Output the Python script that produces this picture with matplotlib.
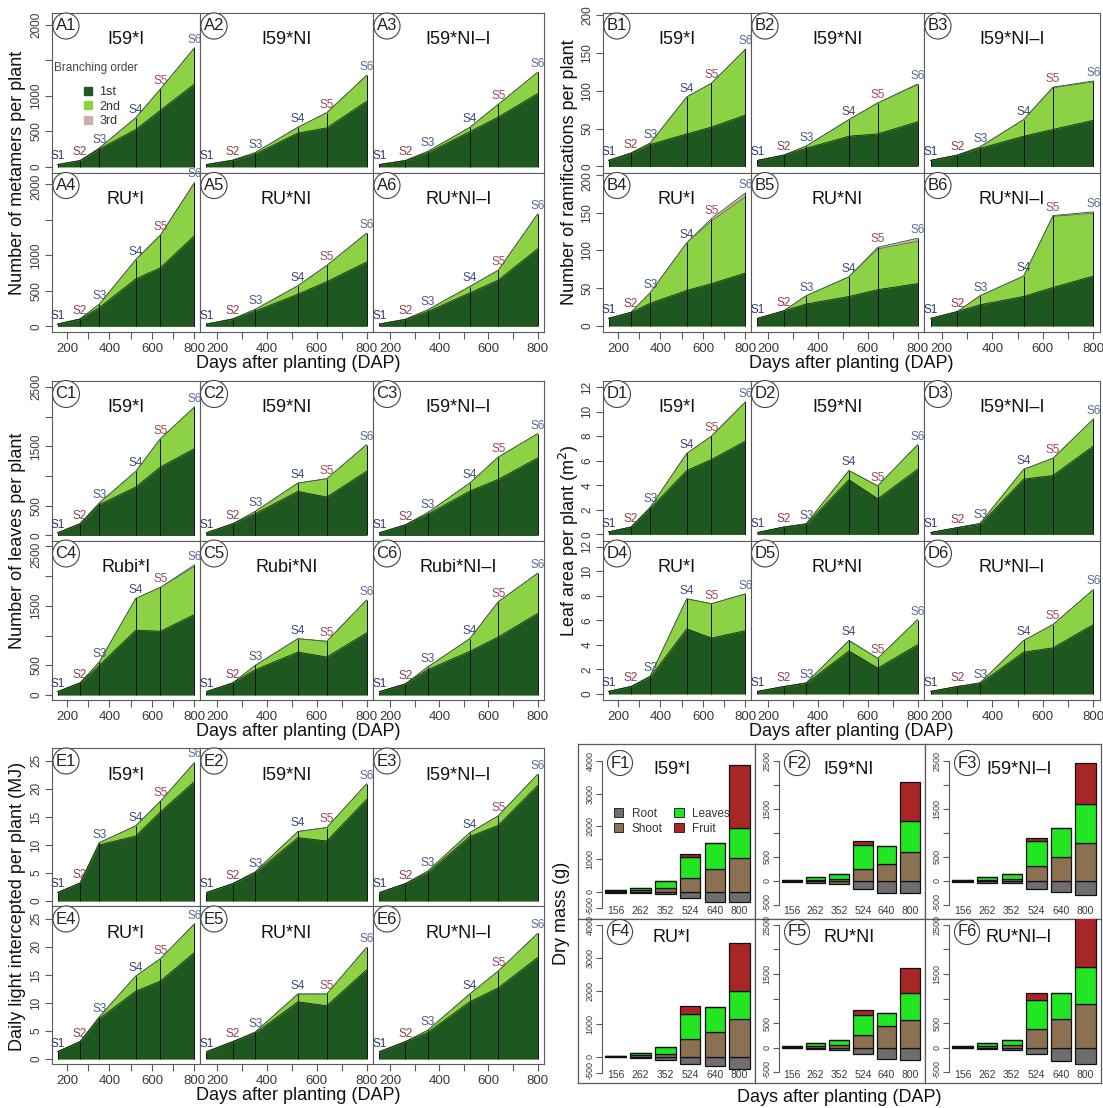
import numpy as np
import matplotlib
matplotlib.use("Agg")
import matplotlib.pyplot as plt
from matplotlib.patches import Patch
from matplotlib.transforms import ScaledTranslation

plt.rcParams['font.family'] = ['Liberation Sans', 'DejaVu Sans']

W, H = 1103, 1108

DAP = [156, 262, 352, 524, 640, 800]
STAGES = ["S1", "S2", "S3", "S4", "S5", "S6"]
STAGE_COLORS = ["#2e3a66", "#8e3e4e", "#4a5884", "#3e4a78", "#9c4c5a", "#5a6a9c"]

TITLES_IRU = ["I59*I", "I59*NI", "I59*NI–I", "RU*I", "RU*NI", "RU*NI–I"]
TITLES_RUBI = ["I59*I", "I59*NI", "I59*NI–I", "Rubi*I", "Rubi*NI", "Rubi*NI–I"]

# number of metamers: 1st order, 2nd order (added), 3rd order (added)
metamers_1st = [[30, 85, 250, 525, 795, 1165], [30, 90, 180, 475, 548, 920],
                [30, 85, 195, 495, 700, 1030], [30, 100, 262, 667, 824, 1276],
                [30, 100, 214, 452, 628, 905], [30, 95, 205, 470, 650, 1090]]
metamers_2nd = [[3, 3, 12, 165, 300, 505], [3, 5, 20, 82, 214, 366],
                [3, 5, 20, 60, 180, 300], [3, 5, 48, 271, 457, 738],
                [3, 5, 24, 119, 229, 405], [3, 5, 25, 90, 140, 490]]
metamers_3rd = [[0, 0, 0, 0, 0, 6], [0, 0, 0, 0, 0, 0], [0, 0, 0, 0, 0, 0],
                [0, 0, 0, 0, 5, 10], [0, 0, 0, 0, 0, 0], [0, 0, 0, 0, 0, 0]]

# number of ramifications
ramif_1st = [[8, 17, 29, 43, 52, 68], [8, 15, 24, 40, 43, 59], [8, 15, 24, 40, 49, 61],
             [10, 18, 30, 47, 56, 70], [10, 20, 29, 39, 48, 56], [10, 19, 28, 39, 51, 66]]
ramif_2nd = [[0, 1, 2, 49, 58, 87], [0, 0, 3, 22, 41, 49], [0, 0, 2, 22, 55, 51],
             [0, 0, 14, 63, 83, 101], [0, 0, 11, 26, 54, 56], [0, 0, 12, 27, 94, 83]]
ramif_3rd = [[0, 0, 0, 0, 0, 0], [0, 0, 0, 0, 0, 1], [0, 0, 0, 0, 1, 1],
             [0, 0, 0, 0, 3, 5], [0, 0, 0, 0, 2, 4], [0, 0, 0, 0, 1, 2]]

# number of leaves
leaves_1st = [[45, 197, 517, 815, 1152, 1461], [45, 197, 365, 742, 646, 1079],
              [45, 180, 354, 747, 944, 1303], [56, 203, 497, 1089, 1072, 1354],
              [56, 203, 423, 722, 638, 1044], [56, 186, 423, 734, 976, 1371]]
leaves_2nd = [[0, 0, 28, 264, 477, 702], [0, 0, 39, 140, 309, 449],
              [0, 0, 28, 135, 376, 410], [0, 0, 56, 536, 739, 807],
              [0, 0, 74, 226, 265, 553], [0, 0, 45, 214, 593, 677]]
leaves_3rd = [[0, 0, 0, 0, 0, 0], [0, 0, 0, 0, 0, 0], [0, 0, 0, 0, 0, 0],
              [0, 0, 0, 0, 0, 29], [0, 0, 0, 0, 0, 0], [0, 0, 0, 0, 0, 0]]

# leaf area (m2)
area_1st = [[0.2, 0.6, 2.1, 5.2, 6.1, 7.6], [0.15, 0.6, 0.8, 4.45, 2.9, 5.3],
            [0.15, 0.55, 0.8, 4.5, 4.8, 7.2], [0.2, 0.6, 1.35, 5.3, 4.55, 5.15],
            [0.2, 0.6, 0.85, 3.5, 2.1, 4.0], [0.2, 0.6, 0.85, 3.4, 3.75, 5.65]]
area_2nd = [[0, 0, 0.1, 1.4, 1.9, 3.2], [0, 0, 0.07, 0.75, 1.05, 2.0],
            [0, 0, 0.1, 0.8, 1.4, 2.2], [0, 0, 0.1, 2.45, 2.8, 3.0],
            [0, 0, 0.05, 0.85, 0.8, 2.05], [0, 0, 0.05, 0.95, 1.9, 2.85]]
area_3rd = [[0] * 6 for _ in range(6)]

# daily light intercepted (MJ)
light_1st = [[1.5, 3.2, 10.0, 11.6, 15.9, 21.3], [1.5, 3.1, 5.0, 11.3, 10.7, 18.1],
             [1.5, 3.1, 5.0, 11.5, 13.5, 20.6], [1.3, 3.1, 7.2, 12.1, 13.9, 19.0],
             [1.3, 3.1, 4.6, 10.2, 9.5, 15.9], [1.3, 3.1, 4.7, 10.2, 12.7, 18.1]]
light_2nd = [[0, 0, 0.4, 1.8, 1.9, 3.4], [0, 0, 0.2, 1.1, 2.4, 2.8],
             [0, 0, 0.3, 0.7, 1.7, 2.0], [0, 0, 0.3, 2.7, 4.0, 5.1],
             [0, 0, 0.2, 1.4, 2.1, 4.0], [0, 0, 0.4, 1.4, 3.0, 4.3]]
light_3rd = [[0] * 6 for _ in range(6)]

# dry mass (g) per organ, root drawn below zero
root_mass = [[30, 50, 80, 200, 330, 330], [20, 40, 60, 170, 250, 250],
             [20, 40, 50, 160, 230, 300], [20, 40, 90, 220, 300, 380],
             [10, 40, 50, 130, 240, 250], [20, 40, 50, 130, 280, 330]]
shoot_mass = [[20, 40, 100, 430, 690, 1040], [10, 30, 50, 260, 350, 600],
              [10, 30, 50, 320, 510, 790], [10, 40, 80, 520, 740, 1150],
              [10, 40, 60, 260, 430, 560], [10, 40, 50, 380, 580, 880]]
leaf_mass = [[30, 60, 220, 620, 790, 910], [15, 50, 100, 490, 370, 640],
             [15, 50, 100, 520, 590, 820], [20, 70, 200, 760, 780, 830],
             [20, 50, 90, 400, 280, 560], [20, 50, 100, 580, 540, 760]]
fruit_mass = [[0, 0, 0, 90, 0, 1930], [0, 0, 0, 80, 0, 820], [0, 0, 0, 50, 0, 840],
              [0, 0, 0, 260, 0, 1480], [0, 0, 0, 110, 0, 500], [0, 0, 0, 150, 0, 1200]]
F_TITLES = ["I59*I", "I59*NI", "I59*NI–I", "RU*I", "RU*NI", "RU*NI–I"]

C_1ST, C_2ND, C_3RD = "#1f5720", "#8dd244", "#c8b2a8"
C_ROOT, C_SHOOT, C_LEAF, C_FRUIT = "#6e6e6e", "#8b7152", "#22e622", "#a82626"
GRID_C = "#5a5a5a"
TXT_C = "#3a3a3a"

fig = plt.figure(figsize=(W / 100, H / 100), dpi=100)


def px_axes(x0, y0, x1, y1):
    return fig.add_axes([x0 / W, 1 - y1 / H, (x1 - x0) / W, (y1 - y0) / H])


def shift_label(label, dy_px):
    # move one tick label up (+) or down (-) by a few pixels
    label.set_transform(label.get_transform()
                        + ScaledTranslation(0, dy_px / 100, fig.dpi_scale_trans))


def circle_label(ax, text, xf, yf, size=12):
    ax.text(xf, yf, text, transform=ax.transAxes, ha="center", va="center",
            fontsize=size, color="#222",
            bbox=dict(boxstyle="circle,pad=0.17", fc="white", ec="#444", lw=0.8),
            zorder=10)


def area_group(letter, left, right, top, bottom, o1, o2, o3, titles, ylim,
               yticks, yticklabels, ylabel, top_shift=0, legend=False):
    cols = [left, left + 148, left + 321, right]
    rows = [top, (top + bottom) / 2, bottom]
    for i in range(6):
        r, c = divmod(i, 3)
        x0, x1, y0, y1 = cols[c], cols[c + 1], rows[r], rows[r + 1]
        ax = px_axes(x0, y0, x1, y1)
        first = np.array(o1[i], float)
        second = first + np.array(o2[i], float)
        third = second + np.array(o3[i], float)
        ax.fill_between(DAP, 0, third, color=C_3RD, lw=0)
        ax.fill_between(DAP, 0, second, color=C_2ND, lw=0)
        ax.fill_between(DAP, 0, first, color=C_1ST, lw=0)
        ax.plot(DAP, third, color="#2d4a2d", lw=0.6)
        ax.plot(DAP, second, color="#3d6a2d", lw=0.5)
        ax.plot(DAP, first, color="#0e2a0e", lw=0.6)
        ax.vlines(DAP, 0, third, color="#101010", lw=0.7)
        for x, y, s, col in zip(DAP, third, STAGES, STAGE_COLORS):
            t = ax.annotate(s, (x, y), xytext=(0, 1.5), textcoords="offset points",
                            ha="center", va="bottom", fontsize=8.5, color=col)
            t.set_clip_on(True)
        ax.set_xlim(130, 826)
        ax.set_ylim(*ylim)
        for sp in ax.spines.values():
            sp.set_color(GRID_C)
            sp.set_linewidth(0.8)
        ax.set_xticks([200, 300, 400, 500, 600, 700, 800])
        if r == 1:
            ax.set_xticklabels(["200", "", "400", "", "600", "", "800"])
            ax.tick_params(axis="x", length=5, width=0.8, color=GRID_C,
                           labelsize=9.5, labelcolor=TXT_C, pad=3)
        else:
            ax.tick_params(axis="x", bottom=False, labelbottom=False)
        ax.set_yticks(yticks)
        if c == 0:
            ax.set_yticklabels(yticklabels, rotation=90, va="center")
            ax.tick_params(axis="y", length=5, width=0.8, color=GRID_C,
                           labelsize=8.5, labelcolor=TXT_C, pad=2)
            if r == 1 and top_shift:
                shift_label(ax.get_yticklabels()[-1], -top_shift)
        else:
            ax.tick_params(axis="y", left=False, labelleft=False)
        wpx, hpx = x1 - x0, y1 - y0
        circle_label(ax, f"{letter}{i + 1}", 14 / wpx, 1 - 13 / hpx)
        ax.text(0.5, 1 - 27 / hpx, titles[i], transform=ax.transAxes,
                ha="center", va="center", fontsize=13, color="#111")
        if legend and i == 0:
            ax.text(1.5 / wpx, 1 - 55 / hpx, "Branching order", transform=ax.transAxes,
                    ha="left", va="center", fontsize=8.5, color="#444")
            handles = [Patch(color=cc) for cc in (C_1ST, C_2ND, C_3RD)]
            ax.legend(handles, ["1st", "2nd", "3rd"], loc="upper left",
                      bbox_to_anchor=(26 / wpx, 1 - 67 / hpx), frameon=False,
                      fontsize=9, handlelength=0.6, handleheight=0.6,
                      handletextpad=0.6, labelspacing=0.2, borderpad=0,
                      labelcolor="#333")
    fig.text((left - 34) / W, 1 - (top + bottom) / 2 / H, ylabel, rotation=90,
             ha="center", va="center", fontsize=13, color="#111")
    fig.text((left + right) / 2 / W, 1 - (bottom + 32) / H, "Days after planting (DAP)",
             ha="center", va="center", fontsize=13, color="#111")


area_group("A", 52, 544, 13, 332, metamers_1st, metamers_2nd, metamers_3rd,
           TITLES_IRU, (-80, 2165), [0, 500, 1000, 1500, 2000],
           ["0", "500", "1000", "", "2000"], "Number of metamers per plant",
           top_shift=3, legend=True)
area_group("B", 603, 1100, 13, 332, ramif_1st, ramif_2nd, ramif_3rd,
           TITLES_IRU, (-8, 203), [0, 50, 100, 150, 200],
           ["0", "50", "100", "150", "200"], "Number of ramifications per plant",
           top_shift=6)
area_group("C", 52, 544, 381, 700, leaves_1st, leaves_2nd, leaves_3rd,
           TITLES_RUBI, (-85, 2600), [0, 500, 1000, 1500, 2000, 2500],
           ["0", "500", "", "1500", "", "2500"], "Number of leaves per plant",
           top_shift=8)
area_group("D", 603, 1100, 381, 700, area_1st, area_2nd, area_3rd,
           TITLES_IRU, (-0.5, 12.5), [0, 2, 4, 6, 8, 10, 12],
           ["0", "2", "4", "6", "8", "10", "12"], "Leaf area per plant (m$^2$)")
area_group("E", 52, 544, 748, 1064, light_1st, light_2nd, light_3rd,
           TITLES_IRU, (-0.9, 27.3), [0, 5, 10, 15, 20, 25],
           ["0", "5", "10", "15", "20", "25"], "Daily light intercepted per plant (MJ)")

# ---- F: dry mass bar charts
f_cols = [578, 755, 925, 1101]
f_rows = [744, 919, 1083]
f_ylims = [(-837, 4520), (-792, 2854), (-792, 2854),
           (-804, 4182), (-724, 2622), (-724, 2622)]
idx = np.arange(len(DAP))
for i in range(6):
    r, c = divmod(i, 3)
    x0, x1, y0, y1 = f_cols[c], f_cols[c + 1], f_rows[r], f_rows[r + 1]
    frame = px_axes(x0, y0, x1, y1)
    frame.set_xticks([])
    frame.set_yticks([])
    for sp in frame.spines.values():
        sp.set_color(GRID_C)
        sp.set_linewidth(0.9)
    ax = px_axes(x0 + 24, y0, x1 - 3, y1)
    ax.patch.set_alpha(0)
    root = -np.array(root_mass[i], float)
    shoot = np.array(shoot_mass[i], float)
    leaf = np.array(leaf_mass[i], float)
    fruit = np.array(fruit_mass[i], float)
    kw = dict(width=0.83, edgecolor="#111", linewidth=0.9)
    ax.bar(idx, root, color=C_ROOT, **kw)
    ax.bar(idx, shoot, color=C_SHOOT, **kw)
    ax.bar(idx, leaf, bottom=shoot, color=C_LEAF, **kw)
    ax.bar(idx, fruit, bottom=shoot + leaf, color=C_FRUIT, **kw)
    ax.set_xlim(-0.55, 5.5)
    ax.set_ylim(*f_ylims[i])
    for name in ("top", "right", "bottom"):
        ax.spines[name].set_visible(False)
    if c == 0:
        yt = [-500, 0, 1000, 2000, 3000, 4000]
        yl = ["-500", "0", "1000", "2000", "3000", "4000"]
    else:
        yt = [-500, 0, 500, 1000, 1500, 2000, 2500]
        yl = ["-500", "0", "500", "", "1500", "", "2500"]
    ax.spines["left"].set_bounds(yt[0], yt[-1])
    ax.spines["left"].set_color(GRID_C)
    ax.spines["left"].set_linewidth(0.8)
    ax.set_yticks(yt)
    ax.set_yticklabels(yl, rotation=90, va="center")
    ax.tick_params(axis="y", length=4, width=0.8, color=GRID_C, labelsize=6.5,
                   labelcolor=TXT_C, pad=1.5)
    shift_label(ax.get_yticklabels()[0], 3)
    ax.set_xticks([])
    hpx = y1 - y0
    for k, d in enumerate(DAP):
        ax.text(k, 8.5 / hpx, str(d), transform=ax.get_xaxis_transform(),
                ha="center", va="center", fontsize=7.5, color=TXT_C)
    wpx = x1 - x0
    top_off = 19 if r == 0 else 13
    circle_label(frame, f"F{i + 1}", 42 / wpx, 1 - top_off / hpx)
    frame.text(94 / wpx, 1 - (top_off + 6) / hpx, F_TITLES[i], transform=frame.transAxes,
               ha="center", va="center", fontsize=13, color="#111", zorder=11)
    if i == 0:
        handles = [Patch(facecolor=cc, edgecolor="#111", lw=0.6)
                   for cc in (C_ROOT, C_SHOOT, C_LEAF, C_FRUIT)]
        frame.legend(handles, ["Root", "Shoot", "Leaves", "Fruit"], ncol=2,
                     loc="upper left", bbox_to_anchor=(30 / wpx, 1 - 58 / hpx),
                     frameon=False, fontsize=8.5, handlelength=0.8, handleheight=0.8,
                     handletextpad=0.7, labelspacing=0.25, columnspacing=1.0,
                     borderpad=0, labelcolor="#333")

fig.text((578 - 16) / W, 1 - 913 / H, "Dry mass (g)", rotation=90, ha="center",
         va="center", fontsize=13, color="#111")
fig.text((578 + 1101) / 2 / W, 1 - 1097 / H, "Days after planting (DAP)",
         ha="center", va="center", fontsize=13, color="#111")

fig.savefig("out.png", dpi=100)
